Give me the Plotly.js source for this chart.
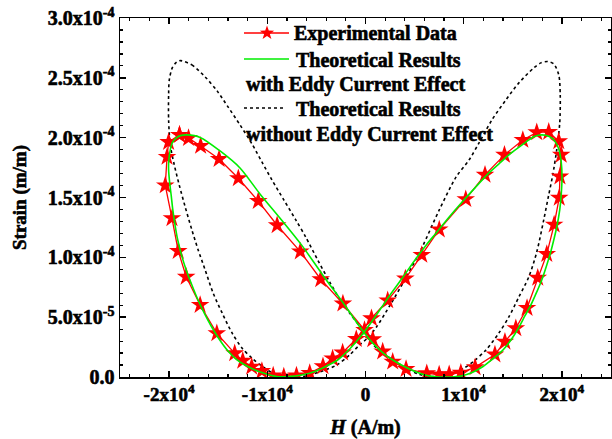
<!DOCTYPE html>
<html><head><meta charset="utf-8">
<script src="https://cdn.plot.ly/plotly-3.0.1.min.js"></script>
<style>html,body{margin:0;padding:0;background:#fff}#chart{width:612px;height:439px}
#chart svg text{stroke:#000;stroke-width:0.6px;}</style>
</head><body><div id="chart"></div>
<script>
// Experimental data (H in A/m, strain in m/m)
const expH = [-1.894e4,-1.802e4,-1.679e4,-1.491e4,-1.295e4,-1.092e4,-0.900e4,-0.664e4,-0.456e4,-0.230e4,-0.010e4,0.074e4,0.175e4,0.277e4,0.413e4,0.624e4,0.750e4,0.852e4,0.971e4,1.116e4,1.318e4,1.420e4,1.531e4,1.645e4,1.754e4,1.846e4,1.921e4,1.973e4,1.980e4,1.993e4,1.968e4,1.866e4,1.744e4,1.602e4,1.415e4,1.217e4,1.021e4,0.751e4,0.573e4,0.406e4,0.226e4,0.061e4,-0.094e4,-0.233e4,-0.335e4,-0.433e4,-0.568e4,-0.703e4,-0.832e4,-0.940e4,-1.055e4,-1.159e4,-1.250e4,-1.332e4,-1.514e4,-1.684e4,-1.826e4,-1.907e4,-1.971e4,-2.039e4,-2.021e4,-2.005e4];
const expStrain = [20.23e-5,19.96e-5,19.31e-5,18.22e-5,16.61e-5,14.70e-5,12.68e-5,10.48e-5,8.17e-5,6.13e-5,3.93e-5,3.15e-5,2.12e-5,1.28e-5,0.67e-5,0.31e-5,0.21e-5,0.23e-5,0.36e-5,0.81e-5,1.88e-5,2.95e-5,4.07e-5,5.77e-5,8.29e-5,10.27e-5,12.73e-5,14.98e-5,16.75e-5,18.56e-5,19.70e-5,20.48e-5,20.44e-5,19.81e-5,18.56e-5,16.89e-5,14.86e-5,12.33e-5,10.20e-5,8.22e-5,6.40e-5,4.91e-5,3.18e-5,2.05e-5,1.55e-5,0.89e-5,0.33e-5,0.13e-5,0.04e-5,0.13e-5,0.50e-5,0.86e-5,1.36e-5,1.98e-5,3.65e-5,6.02e-5,8.38e-5,10.53e-5,13.27e-5,16.01e-5,18.39e-5,19.63e-5];

// Theoretical results with eddy current effect
const eddyH = [-1.818e4,-1.684e4,-1.481e4,-1.278e4,-1.075e4,-0.872e4,-0.652e4,-0.436e4,-0.213e4,-0.020e4,0.091e4,0.193e4,0.294e4,0.406e4,0.517e4,0.629e4,0.751e4,0.872e4,0.974e4,1.085e4,1.197e4,1.308e4,1.400e4,1.481e4,1.552e4,1.623e4,1.684e4,1.744e4,1.795e4,1.846e4,1.886e4,1.922e4,1.950e4,1.978e4,1.993e4,2.001e4,1.993e4,1.968e4,1.927e4,1.866e4,1.798e4,1.724e4,1.595e4,1.460e4,1.359e4,1.237e4,1.123e4,0.984e4,0.852e4,0.720e4,0.619e4,0.497e4,0.375e4,0.264e4,0.152e4,0.061e4,-0.030e4,-0.142e4,-0.284e4,-0.396e4,-0.517e4,-0.649e4,-0.791e4,-0.906e4,-1.024e4,-1.126e4,-1.227e4,-1.318e4,-1.400e4,-1.491e4,-1.572e4,-1.643e4,-1.714e4,-1.768e4,-1.826e4,-1.869e4,-1.912e4,-1.937e4,-1.962e4,-1.978e4,-1.995e4,-2.005e4,-2.003e4,-1.988e4,-1.968e4,-1.927e4,-1.876e4];
const eddyStrain = [20.23e-5,20.02e-5,18.89e-5,17.47e-5,15.30e-5,13.29e-5,11.04e-5,8.53e-5,6.02e-5,3.76e-5,2.68e-5,1.92e-5,1.34e-5,0.84e-5,0.42e-5,0.13e-5,0.00e-5,0.00e-5,0.08e-5,0.38e-5,0.88e-5,1.59e-5,2.26e-5,3.09e-5,4.01e-5,5.10e-5,6.02e-5,7.11e-5,8.11e-5,9.36e-5,10.45e-5,11.62e-5,12.62e-5,13.96e-5,15.22e-5,16.72e-5,17.97e-5,19.06e-5,19.73e-5,20.11e-5,20.23e-5,20.11e-5,19.40e-5,18.56e-5,17.81e-5,16.89e-5,15.88e-5,14.63e-5,13.38e-5,12.04e-5,11.04e-5,9.70e-5,8.28e-5,7.02e-5,5.68e-5,4.60e-5,3.59e-5,2.51e-5,1.42e-5,0.92e-5,0.46e-5,0.17e-5,0.03e-5,0.04e-5,0.29e-5,0.59e-5,1.00e-5,1.50e-5,2.17e-5,3.18e-5,4.26e-5,5.35e-5,6.60e-5,7.69e-5,8.95e-5,10.06e-5,11.45e-5,12.57e-5,13.96e-5,15.13e-5,16.30e-5,17.31e-5,18.14e-5,18.98e-5,19.56e-5,19.98e-5,20.19e-5];

// Theoretical results without eddy current effect
const noEddyH = [-1.886e4,-1.768e4,-1.633e4,-1.511e4,-1.400e4,-1.278e4,-1.156e4,-1.055e4,-0.953e4,-0.832e4,-0.710e4,-0.609e4,-0.487e4,-0.365e4,-0.264e4,-0.162e4,-0.061e4,0.020e4,0.091e4,0.193e4,0.294e4,0.416e4,0.548e4,0.720e4,0.882e4,1.004e4,1.105e4,1.227e4,1.359e4,1.460e4,1.562e4,1.663e4,1.744e4,1.815e4,1.866e4,1.907e4,1.947e4,1.978e4,1.983e4,1.968e4,1.917e4,1.856e4,1.785e4,1.714e4,1.562e4,1.430e4,1.288e4,1.156e4,1.055e4,0.923e4,0.751e4,0.578e4,0.416e4,0.264e4,0.112e4,0.020e4,-0.061e4,-0.162e4,-0.294e4,-0.467e4,-0.639e4,-0.801e4,-0.943e4,-1.055e4,-1.146e4,-1.258e4,-1.359e4,-1.460e4,-1.552e4,-1.633e4,-1.704e4,-1.768e4,-1.836e4,-1.897e4,-1.947e4,-1.988e4,-2.005e4,-2.005e4,-1.998e4,-1.968e4,-1.927e4];
const noEddyStrain = [26.44e-5,26.08e-5,25.08e-5,23.91e-5,22.57e-5,21.07e-5,19.48e-5,17.97e-5,16.47e-5,14.80e-5,13.13e-5,11.70e-5,9.78e-5,7.94e-5,6.52e-5,5.35e-5,4.26e-5,3.34e-5,2.59e-5,1.92e-5,1.34e-5,0.75e-5,0.21e-5,0.03e-5,0.29e-5,0.75e-5,1.34e-5,2.26e-5,3.68e-5,5.02e-5,6.69e-5,8.36e-5,10.45e-5,13.13e-5,15.22e-5,16.89e-5,18.98e-5,21.23e-5,23.58e-5,25.25e-5,26.17e-5,26.36e-5,26.25e-5,25.83e-5,24.58e-5,23.16e-5,21.49e-5,19.56e-5,18.14e-5,16.72e-5,13.96e-5,10.87e-5,8.36e-5,6.19e-5,4.18e-5,3.26e-5,2.68e-5,1.84e-5,1.00e-5,0.42e-5,0.04e-5,0.06e-5,0.33e-5,0.92e-5,1.50e-5,2.42e-5,3.68e-5,5.35e-5,7.02e-5,8.95e-5,10.62e-5,12.29e-5,14.21e-5,16.05e-5,17.72e-5,19.40e-5,21.49e-5,23.58e-5,24.83e-5,25.83e-5,26.29e-5];

// Tick labels
const xTickVals = [-2e4,-1e4,0,1e4,2e4];
const xTickText = ['-2x10<sup>4</sup>','-1x10<sup>4</sup>','0','1x10<sup>4</sup>','2x10<sup>4</sup>'];
const yTickVals = [0,5e-5,1e-4,1.5e-4,2e-4,2.5e-4,3e-4];
const yTickText = ['0.0','5.0x10<sup>-5</sup>','1.0x10<sup>-4</sup>','1.5x10<sup>-4</sup>','2.0x10<sup>-4</sup>','2.5x10<sup>-4</sup>','3.0x10<sup>-4</sup>'];

// Legend labels
const legendLabels = ['Experimental Data','Theoretical Results','with Eddy Current Effect','Theoretical Results','without Eddy Current Effect'];

const close = a => a.concat([a[0]]);
const bold = s => '<b>' + s + '</b>';
const FONT = 'Liberation Serif, Times New Roman, serif';

const traces = [
  {x: close(noEddyH), y: close(noEddyStrain), mode:'lines', line:{color:'#000', width:1.6, dash:'3px,3px', shape:'spline', smoothing:0.8}, showlegend:false, hoverinfo:'skip'},
  {x: close(expH), y: close(expStrain), mode:'lines+markers', line:{color:'#ff0000', width:1.3}, marker:{symbol:'star', size:14, color:'#ff0000', line:{width:0}}, showlegend:false},
  {x: close(eddyH), y: close(eddyStrain), mode:'lines', line:{color:'#00ee00', width:1.6, shape:'spline', smoothing:0.8}, showlegend:false}
];

const L = 120, R = 1, T = 18, B = 62, W = 612, Hh = 439;
const pw = W - L - R, ph = Hh - T - B;
const px = v => (v - L) / pw;
const py = v => (Hh - B - v) / ph;

// legend key star (paper coordinates)
function starPath(cx, cy, ro, ri) {
  let d = '';
  for (let k = 0; k < 10; k++) {
    const r = k % 2 ? ri : ro;
    const a = -Math.PI / 2 + k * Math.PI / 5;
    d += (k ? 'L' : 'M') + px(cx + r * Math.cos(a)).toFixed(5) + ',' + py(cy + r * Math.sin(a)).toFixed(5);
  }
  return d + 'Z';
}

const legFont = {family: FONT, size: 20, color: '#000'};
const ann = (text, x, y) => ({xref:'paper', yref:'paper', x: px(x), y: py(y), xanchor:'left', yanchor:'middle', text: bold(text), showarrow:false, font: legFont});

const layout = {
  width: W, height: Hh,
  margin: {l: L, r: R, t: T, b: B},
  paper_bgcolor: '#fff', plot_bgcolor: '#fff',
  font: {family: FONT, size: 19, color: '#000'},
  xaxis: {
    range: [-2.5e4, 2.5e4], tickmode:'array', tickvals: xTickVals, ticktext: xTickText.map(bold),
    showline: true, linecolor: '#000', linewidth: 1.5, mirror: 'allticks',
    ticks: 'inside', ticklen: 6, tickwidth: 1.5, tickcolor: '#000',
    minor: {tickmode:'linear', tick0: 0, dtick: 2000, ticks:'inside', ticklen: 3, tickwidth: 1.2, tickcolor:'#000'},
    showgrid: false, zeroline: false,
    tickfont: {family: FONT, size: 19, color:'#000'},
    title: {text: bold('<i>H</i> (A/m)'), font: {family: FONT, size: 20, color:'#000'}, standoff: 16}
  },
  yaxis: {
    range: [0, 3e-4], tickmode:'array', tickvals: yTickVals, ticktext: yTickText.map(bold),
    showline: true, linecolor: '#000', linewidth: 1.5, mirror: 'allticks',
    ticks: 'inside', ticklen: 6, tickwidth: 1.5, tickcolor: '#000',
    minor: {tickmode:'linear', tick0: 0, dtick: 1e-5, ticks:'inside', ticklen: 3, tickwidth: 1.2, tickcolor:'#000'},
    showgrid: false, zeroline: false,
    tickfont: {family: FONT, size: 20, color:'#000'},
    title: {text: bold('Strain (m/m)'), font: {family: FONT, size: 19, color:'#000'}, standoff: 16}
  },
  shapes: [
    {type:'line', xref:'paper', yref:'paper', x0: px(244), x1: px(289), y0: py(33), y1: py(33), line:{color:'#ff0000', width:1.3}},
    {type:'path', xref:'paper', yref:'paper', path: starPath(267, 33, 7.5, 3.0), fillcolor:'#ff0000', line:{width:0}},
    {type:'line', xref:'paper', yref:'paper', x0: px(244), x1: px(289), y0: py(59), y1: py(59), line:{color:'#00ee00', width:1.6}},
    {type:'line', xref:'paper', yref:'paper', x0: px(244), x1: px(286), y0: py(108), y1: py(108), line:{color:'#000', width:1.5, dash:'3px,3px'}}
  ],
  annotations: [
    ann(legendLabels[0], 292, 33),
    ann(legendLabels[1], 294, 60),
    ann(legendLabels[2], 244, 84),
    ann(legendLabels[3], 294, 109),
    ann(legendLabels[4], 244, 134)
  ]
};

Plotly.newPlot('chart', traces, layout, {displayModeBar: false, staticPlot: true});
</script>
</body></html>
